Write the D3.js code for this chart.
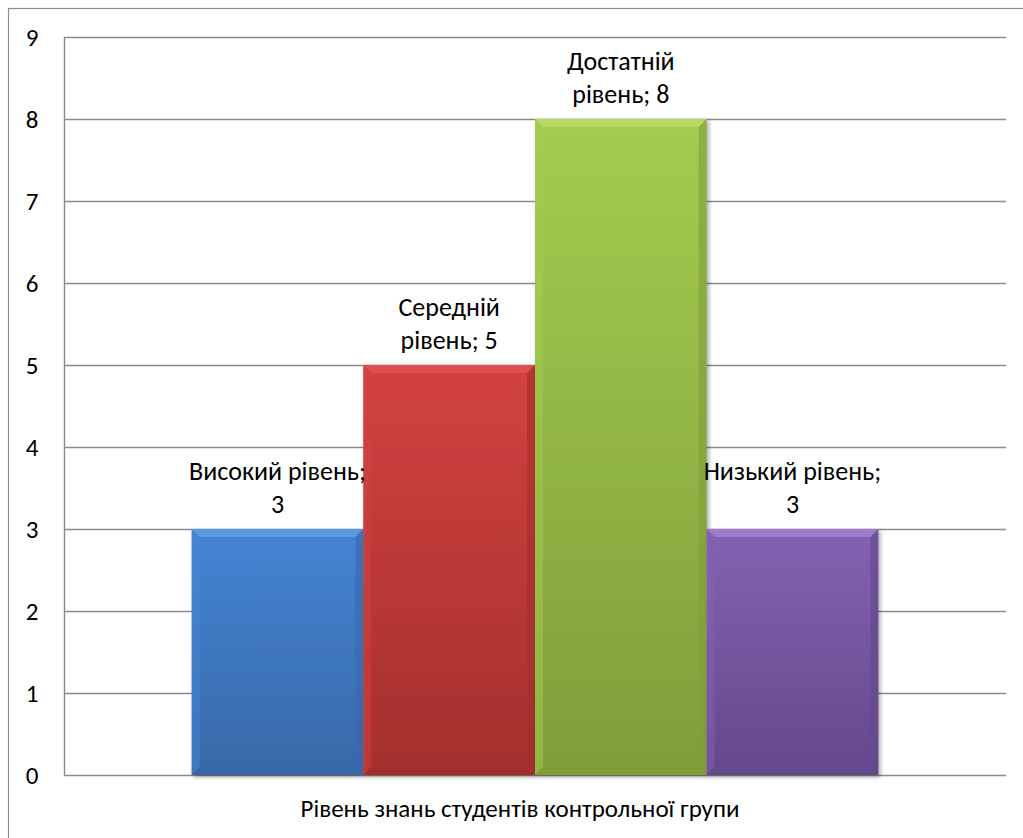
<!DOCTYPE html>
<html>
<head>
<meta charset="utf-8">
<script src="https://cdn.jsdelivr.net/npm/d3@7"></script>
<style>
  html, body { margin: 0; padding: 0; background: #fff; }
  svg { display: block; font-family: Carlito, Calibri, "Open Sans", "Noto Sans", sans-serif; }
</style>
</head>
<body>
<svg id="chart" width="1023" height="838"></svg>
<script>
// Chart data
const categories = ["Високий рівень", "Середній рівень", "Достатній рівень", "Низький рівень"];
const values = [3, 5, 8, 3];
const labelLines = [["Високий рівень;", "3"], ["Середній", "рівень; 5"], ["Достатній", "рівень; 8"], ["Низький рівень;", "3"]];
const yTicks = [0, 1, 2, 3, 4, 5, 6, 7, 8, 9];
const axisTitle = "Рівень знань студентів контрольної групи";

// Fill colours per series: [light, mid, dark]
const palette = [
  ["#5b9be0", "#4585d4", "#3868a8"],
  ["#e25250", "#d24240", "#a42f2d"],
  ["#b8dc62", "#a4cc50", "#7f9e3a"],
  ["#a080cc", "#8462b2", "#64488c"]
];

const svg = d3.select("#chart");
const W = 1023, H = 838;
const plot = { left: 64, top: 37, right: 1006, bottom: 775 };
const FONT = "Carlito, Calibri, 'Open Sans', sans-serif";
const FS = 25;

// Outer chart frame
svg.append("rect")
  .attr("x", 8.5).attr("y", 8.5)
  .attr("width", W + 20).attr("height", H + 20)
  .attr("fill", "#fff").attr("stroke", "#8c8c8c").attr("stroke-width", 1.2);

const y = d3.scaleLinear().domain([0, 9]).range([plot.bottom, plot.top]);
const group = d3.scaleBand().domain([axisTitle]).range([plot.left, plot.right]).paddingInner(0).paddingOuter(0.186);
const x = d3.scaleBand().domain(categories)
  .range([group(axisTitle), group(axisTitle) + group.bandwidth()])
  .padding(0);

// Gridlines
svg.append("g").selectAll("line").data(yTicks).join("line")
  .attr("x1", plot.left).attr("x2", plot.right)
  .attr("y1", d => Math.round(y(d)) + 0.5).attr("y2", d => Math.round(y(d)) + 0.5)
  .attr("stroke", "#8a8a8a").attr("stroke-width", 1.4);

// Left axis line
svg.append("line")
  .attr("x1", plot.left + 0.5).attr("x2", plot.left + 0.5)
  .attr("y1", plot.top).attr("y2", plot.bottom + 0.5)
  .attr("stroke", "#8a8a8a").attr("stroke-width", 1.4);

// Y tick labels
const yAxis = d3.axisLeft(y).tickValues(yTicks).tickSize(0).tickPadding(0);
const yg = svg.append("g").attr("transform", `translate(38,0)`).call(yAxis);
yg.select(".domain").remove();
yg.selectAll("text")
  .attr("font-size", FS).attr("fill", "#000")
  .attr("font-family", FONT)
  .attr("text-anchor", "middle").attr("x", -6);

// Gradients and shadow
const defs = svg.append("defs");
palette.forEach((c, i) => {
  const g = defs.append("linearGradient").attr("id", "grad" + i)
    .attr("x1", 0).attr("y1", 0).attr("x2", 0).attr("y2", 1);
  g.append("stop").attr("offset", "0%").attr("stop-color", c[1]);
  g.append("stop").attr("offset", "100%").attr("stop-color", c[2]);
});
const f = defs.append("filter").attr("id", "shadow").attr("x", "-10%").attr("y", "-10%").attr("width", "130%").attr("height", "130%");
f.append("feGaussianBlur").attr("in", "SourceAlpha").attr("stdDeviation", 2);
f.append("feOffset").attr("dx", 2).attr("dy", 2).attr("result", "off");
f.append("feComponentTransfer").append("feFuncA").attr("type", "linear").attr("slope", 0.35);
const m = f.append("feMerge");
m.append("feMergeNode");
m.append("feMergeNode").attr("in", "SourceGraphic");

// Bars with bevel edges
const bev = 8;
const bars = svg.append("g").selectAll("g").data(values).join("g")
  .attr("filter", "url(#shadow)");
bars.each(function(v, i) {
  const g = d3.select(this);
  const x0 = x(categories[i]), x1 = x0 + x.bandwidth();
  const y0 = y(v), y1 = y(0);
  const c = palette[i];
  g.append("rect").attr("x", x0).attr("y", y0).attr("width", x1 - x0).attr("height", y1 - y0)
    .attr("fill", `url(#grad${i})`);
  // top bevel
  g.append("path").attr("d", `M${x0},${y0}L${x1},${y0}L${x1 - bev},${y0 + bev}L${x0 + bev},${y0 + bev}Z`)
    .attr("fill", c[0]).attr("opacity", 0.9);
  // left bevel
  g.append("path").attr("d", `M${x0},${y0}L${x0 + bev},${y0 + bev}L${x0 + bev},${y1 - bev}L${x0},${y1}Z`)
    .attr("fill", c[1]).attr("opacity", 0.5);
  // right bevel
  g.append("path").attr("d", `M${x1},${y0}L${x1 - bev},${y0 + bev}L${x1 - bev},${y1 - bev}L${x1},${y1}Z`)
    .attr("fill", c[2]).attr("opacity", 0.6);
  // bottom bevel
  g.append("path").attr("d", `M${x0},${y1}L${x0 + bev},${y1 - bev}L${x1 - bev},${y1 - bev}L${x1},${y1}Z`)
    .attr("fill", c[2]).attr("opacity", 0.8);
});

// Data labels
const lab = svg.append("g").selectAll("text").data(values).join("text")
  .attr("text-anchor", "middle").attr("font-size", 26).attr("fill", "#000")
  .attr("font-family", FONT);
lab.each(function(v, i) {
  const t = d3.select(this);
  const cx = x(categories[i]) + x.bandwidth() / 2;
  const base = y(v) - 16;
  labelLines[i].forEach((s, k) => {
    t.append("tspan").attr("x", cx).attr("y", base - (labelLines[i].length - 1 - k) * 33).text(s);
  });
});

// Category axis title
svg.append("text")
  .attr("x", group(axisTitle) + group.bandwidth() / 2 - 15)
  .attr("y", 817)
  .attr("text-anchor", "middle").attr("font-size", FS).attr("fill", "#000")
  .attr("font-family", FONT)
  .text(axisTitle);
</script>
</body>
</html>
